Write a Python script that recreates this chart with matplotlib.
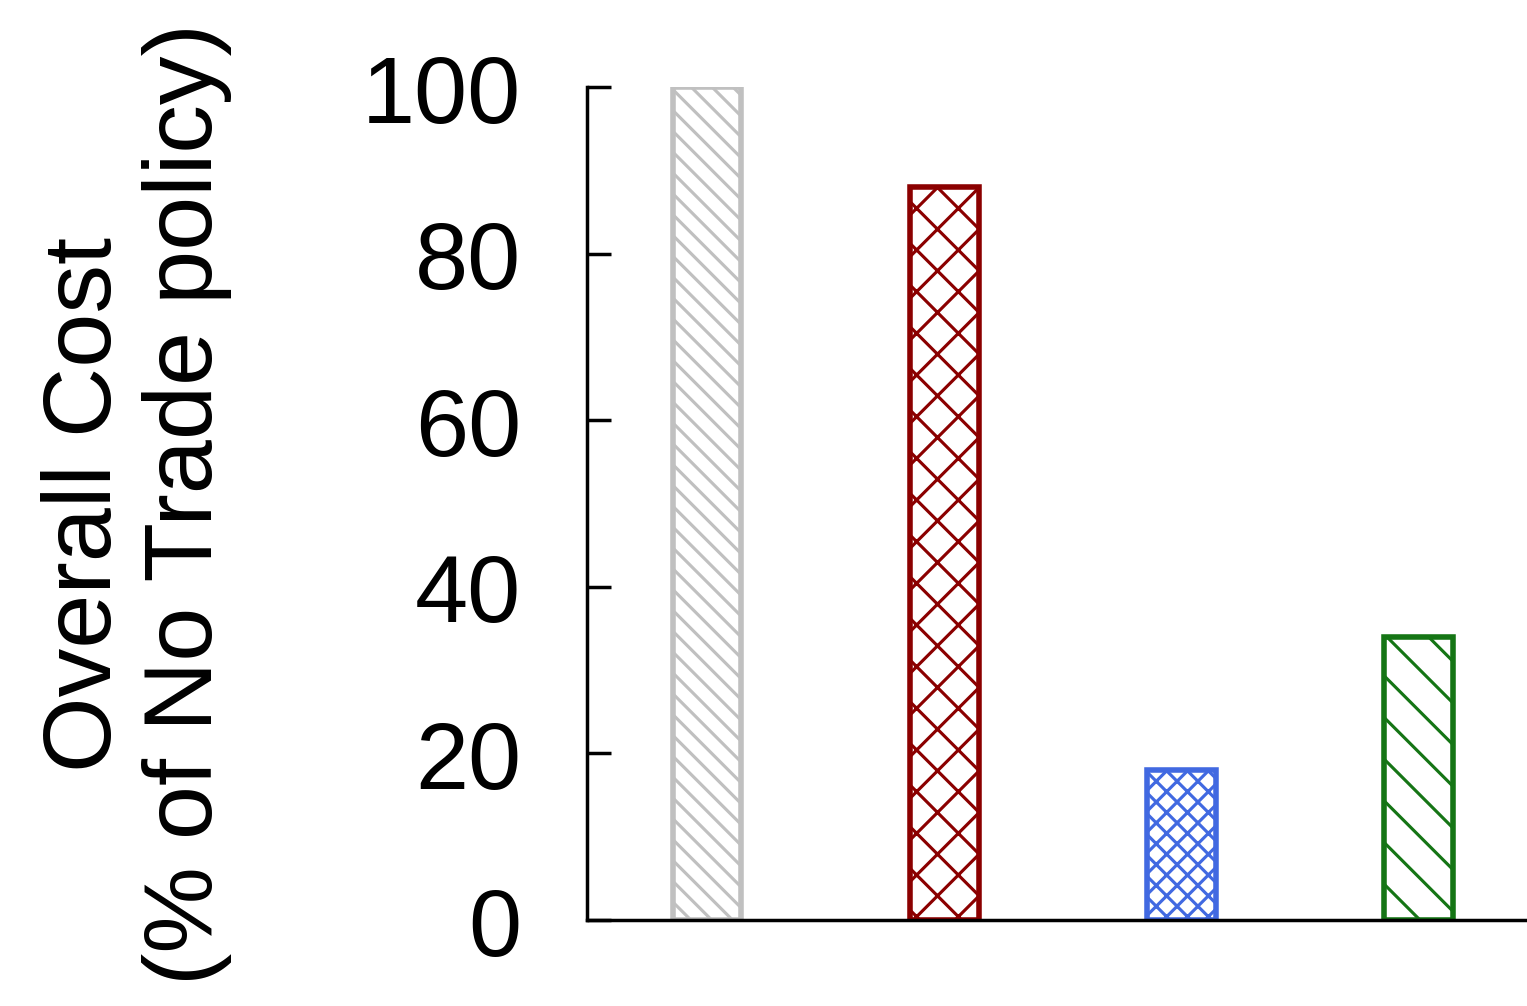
import numpy as np
import matplotlib
matplotlib.use('Agg')
import matplotlib.pyplot as plt

# bar data (% of No Trade policy)
policies = ['No Trade', 'Policy A', 'Policy B', 'Policy C']
cost = [100, 88, 18, 34]
colors = ['#c0c0c0', '#8b0000', '#4169e1', '#157515']
hatches = ['\\\\\\\\', 'xx', 'xxxx', '\\\\']
y_ticks = [0, 20, 40, 60, 80, 100]

plt.rcParams['font.family'] = ['Liberation Sans', 'DejaVu Sans']
plt.rcParams['hatch.linewidth'] = 0.9

DPI = 250
fig = plt.figure(figsize=(1527 / DPI, 1007 / DPI), dpi=DPI)
ax = fig.add_axes([0.3844, 0.0854, 0.6156, 0.8272])

x = np.arange(len(cost))
for i in range(len(cost)):
    ax.bar(x[i], cost[i], width=0.29, facecolor='white', edgecolor=colors[i],
           hatch=hatches[i], linewidth=1.6, zorder=1)

ax.set_xlim(-0.5057, 3.456)
ax.set_ylim(0, 100)
ax.set_xticks([])
ax.set_yticks(y_ticks)
ax.tick_params(axis='y', direction='in', length=6.8, width=1.0, pad=19,
               labelsize=27.5)
for s in ['top', 'right']:
    ax.spines[s].set_visible(False)
for s in ['left', 'bottom']:
    ax.spines[s].set_linewidth(1.0)

ax.set_ylabel('Overall Cost\n(% of No Trade policy)', fontsize=28,
              linespacing=1.15)
ax.yaxis.set_label_coords(-0.378, 0.5)

fig.savefig('out.png', dpi=DPI)
